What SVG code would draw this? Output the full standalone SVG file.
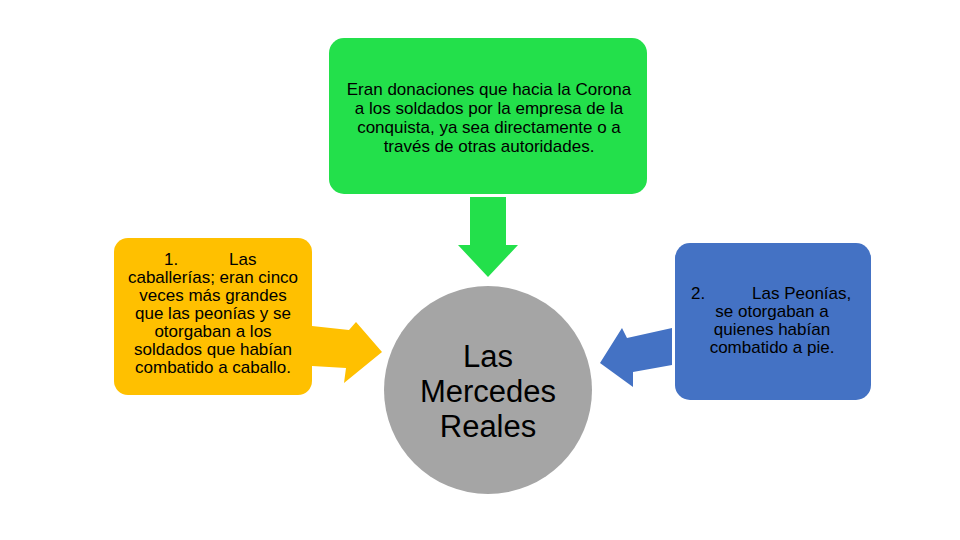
<svg xmlns="http://www.w3.org/2000/svg" width="960" height="540" viewBox="0 0 960 540">
<style>
.t{font-family:"Liberation Sans",Arial,sans-serif;font-size:17px;fill:#000;text-anchor:middle}
.c{font-family:"Liberation Sans",Arial,sans-serif;font-size:31px;fill:#000;text-anchor:middle}
</style>
<rect width="960" height="540" fill="#fff"/>
<g id="connectors">
<polygon id="arrow-top" points="470,197 506,197 506,245 518,245 488,277 458,245 470,245" fill="#23E04B"/>
<polygon id="arrow-left" points="312,326 349,330 356,322 382,352 344,383 346,368 312,366" fill="#FFC000"/>
<polygon id="arrow-right" points="672,328 672,365 633,372 633,387 600,363 622,328 627,338" fill="#4472C4"/>
</g>
<g id="node-top">
<rect x="329" y="38" width="318" height="156" rx="15" fill="#23E04B"/>
<text class="t"><tspan x="489" y="95">Eran donaciones que hacia la Corona</tspan><tspan x="489" y="114">a los soldados por la empresa de la</tspan><tspan x="489" y="133">conquista, ya sea directamente o a</tspan><tspan x="489" y="152">través de otras autoridades.</tspan></text>
</g>
<g id="node-left">
<rect x="114" y="238" width="198" height="157" rx="14" fill="#FFC000"/>
<text class="t" style="text-anchor:start"><tspan x="164" y="265">1.</tspan><tspan x="229" y="265">Las</tspan></text>
<text class="t"><tspan x="213" y="283">caballerías; eran cinco</tspan><tspan x="213" y="301">veces más grandes</tspan><tspan x="213" y="319">que las peonías y se</tspan><tspan x="213" y="337">otorgaban a los</tspan><tspan x="213" y="355">soldados que habían</tspan><tspan x="213" y="373">combatido a caballo.</tspan></text>
</g>
<g id="node-right">
<rect x="675" y="243" width="196" height="157" rx="15" fill="#4472C4"/>
<text class="t" style="text-anchor:start"><tspan x="691" y="299">2.</tspan><tspan x="752" y="299">Las Peonías,</tspan></text>
<text class="t"><tspan x="772" y="317">se otorgaban a</tspan><tspan x="772" y="335">quienes habían</tspan><tspan x="772" y="353">combatido a pie.</tspan></text>
</g>
<g id="node-center">
<circle cx="488" cy="390" r="104" fill="#A5A5A5"/>
<text class="c"><tspan x="488" y="367">Las</tspan><tspan x="488" y="402">Mercedes</tspan><tspan x="488" y="437">Reales</tspan></text>
</g>
</svg>
